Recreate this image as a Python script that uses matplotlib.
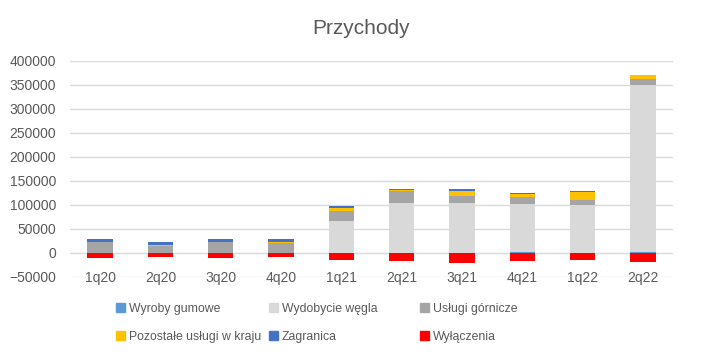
import numpy as np
import matplotlib
matplotlib.use("Agg")
import matplotlib.pyplot as plt
from matplotlib.patches import Patch

quarters = ["1q20", "2q20", "3q20", "4q20", "1q21", "2q21", "3q21", "4q21", "1q22", "2q22"]
wyroby_gumowe = [0, 0, 0, 0, 0, 0, 0, 2500, 0, 2500]
wydobycie_wegla = [0, 0, 0, 0, 66700, 104000, 104000, 99300, 100000, 347000]
uslugi_gornicze = [22300, 15000, 23000, 21000, 20000, 24300, 14600, 14600, 10400, 12500]
pozostale_uslugi = [0, 1000, 0, 2500, 7000, 2800, 10400, 6250, 16700, 8300]
zagranica = [7000, 6000, 6000, 5500, 5000, 2000, 4200, 2000, 2000, 0]
wylaczenia = [-10000, -8000, -10000, -8000, -14600, -16700, -20800, -16700, -14600, -18750]

series = [
    ("Wyroby gumowe", wyroby_gumowe, "#5B9BD5"),
    ("Wydobycie węgla", wydobycie_wegla, "#D9D9D9"),
    ("Usługi górnicze", uslugi_gornicze, "#A5A5A5"),
    ("Pozostałe usługi w kraju", pozostale_uslugi, "#FFC000"),
    ("Zagranica", zagranica, "#4472C4"),
    ("Wyłączenia", wylaczenia, "#FF0000"),
]

plt.rcParams["font.family"] = ["Liberation Sans", "DejaVu Sans"]
txt = "#595959"

fig = plt.figure(figsize=(7.23, 3.6), dpi=100)
ax = fig.add_axes([70 / 723, 83 / 360, 603 / 723, 216 / 360])

x = np.arange(len(quarters))
w = 0.42
pos = np.zeros(len(quarters))
neg = np.zeros(len(quarters))
handles = []
for name, vals, col in series:
    v = np.array(vals, dtype=float)
    base = np.where(v >= 0, pos, neg)
    ax.bar(x, v, w, bottom=base, color=col, zorder=3)
    pos += np.where(v >= 0, v, 0)
    neg += np.where(v < 0, v, 0)
    handles.append(Patch(color=col, label=name))

ax.set_xlim(-0.5, len(quarters) - 0.5)
ax.set_ylim(-50000, 400000)
ax.set_yticks(np.arange(-50000, 400001, 50000))
ax.yaxis.grid(True, color="#D9D9D9", lw=1, zorder=0)
ax.tick_params(axis="y", length=0, labelsize=10, labelcolor=txt, pad=10)
for s in ["top", "right", "left"]:
    ax.spines[s].set_visible(False)
ax.spines["bottom"].set_position(("data", 0))
ax.spines["bottom"].set_visible(False)
ax.set_xticks(x)
ax.set_xticklabels(quarters)
ax.tick_params(axis="x", length=0, labelsize=10, labelcolor=txt, pad=13)

fig.text(0.5, 1 - 28 / 360, "Przychody", ha="center", va="center", fontsize=15, color=txt)

col_x = [116, 269, 420]
for i, cx in enumerate(col_x):
    leg = fig.legend(handles=[handles[i], handles[i + 3]], loc="upper left",
                     bbox_to_anchor=(cx / 723, 1 - 303 / 360), frameon=False,
                     fontsize=8.8, labelcolor=txt, handlelength=0.75, handleheight=0.75,
                     handletextpad=0.3, labelspacing=1.3, borderaxespad=0, borderpad=0)

fig.savefig("out.png", dpi=100)
